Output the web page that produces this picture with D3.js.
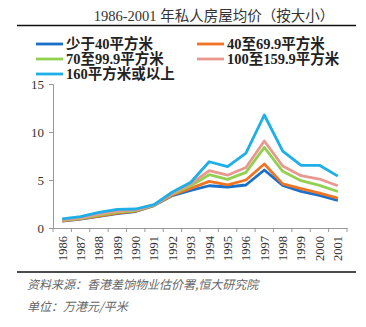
<!DOCTYPE html>
<html>
<head>
<meta charset="utf-8">
<script src="https://cdn.jsdelivr.net/npm/d3@7"></script>
<style>
  body { margin: 0; background: #fff; }
  svg { display: block; }
</style>
</head>
<body>
<div id="container"></div>
<script>
const years = ["1986","1987","1988","1989","1990","1991","1992","1993","1994","1995","1996","1997","1998","1999","2000","2001"];
const seriesNames = ["少于40平方米", "40至69.9平方米", "70至99.9平方米", "100至159.9平方米", "160平方米或以上"];
const seriesColors = ["#1a6fc9", "#f07423", "#92d050", "#e8988f", "#1eaee8"];
const under40 = [0.72, 0.92, 1.22, 1.5, 1.72, 2.33, 3.38, 3.92, 4.4, 4.27, 4.48, 6.04, 4.44, 3.82, 3.4, 2.88];
const s40to69 = [0.74, 0.95, 1.25, 1.54, 1.75, 2.36, 3.44, 4.13, 4.86, 4.5, 5.0, 6.67, 4.6, 4.1, 3.64, 3.12];
const s70to99 = [0.8, 1.0, 1.35, 1.65, 1.82, 2.38, 3.55, 4.4, 5.55, 5.07, 5.8, 8.4, 5.9, 4.93, 4.44, 3.8];
const s100to159 = [0.85, 1.05, 1.45, 1.75, 1.88, 2.4, 3.62, 4.6, 5.97, 5.5, 6.3, 9.06, 6.46, 5.45, 5.1, 4.4];
const over160 = [0.94, 1.18, 1.63, 1.94, 1.98, 2.43, 3.75, 4.76, 6.9, 6.4, 7.8, 11.77, 8.0, 6.53, 6.53, 5.4];
const yTicks = [0, 5, 10, 15];

const allSeries = [under40, s40to69, s70to99, s100to159, over160];

const width = 366, height = 327;
const margin = { top: 84, right: 19, bottom: 99, left: 53 };

const svg = d3.select("#container").append("svg")
  .attr("width", width).attr("height", height);

const serif = "'Liberation Serif', 'Times New Roman', serif";
const cjk = "'Noto Sans CJK SC', sans-serif";

// title + rule
svg.append("text")
  .attr("x", 214).attr("y", 21)
  .attr("text-anchor", "middle")
  .style("font-family", serif + ", " + cjk)
  .style("font-size", "14.5px")
  .style("fill", "#333")
  .text("1986-2001 年私人房屋均价（按大小）");
svg.append("line").attr("x1", 17).attr("x2", 356).attr("y1", 25.5).attr("y2", 25.5)
  .attr("stroke", "#111").attr("stroke-width", 1.6);

const xScale = d3.scaleBand().domain(years).range([margin.left, width - margin.right]);
const yScale = d3.scaleLinear().domain([0, 15]).range([height - margin.bottom, margin.top]);

// axes
const yAxis = d3.axisLeft(yScale).tickValues(yTicks).tickSize(4).tickPadding(5);
const gy = svg.append("g").attr("transform", `translate(${margin.left},0)`).call(yAxis);
gy.selectAll("text").style("font-family", serif).style("font-size", "13px").style("fill", "#333");
gy.selectAll("path, line").attr("stroke", "#999");

const xAxis = d3.axisBottom(xScale).tickSize(0).tickPadding(5);
const gx = svg.append("g").attr("transform", `translate(0,${height - margin.bottom})`).call(xAxis);
gx.select(".domain").attr("stroke", "#999");
gx.selectAll("text")
  .attr("transform", "rotate(-90)")
  .attr("text-anchor", "end")
  .attr("dy", "0.35em")
  .attr("x", -8).attr("y", 0)
  .style("font-family", serif).style("font-size", "12.5px").style("fill", "#333");
// tick marks at band boundaries
const bounds = years.map(d => xScale(d)).concat([xScale.range()[1]]);
svg.append("g").selectAll("line").data(bounds).enter().append("line")
  .attr("x1", d => d).attr("x2", d => d)
  .attr("y1", height - margin.bottom).attr("y2", height - margin.bottom + 4)
  .attr("stroke", "#999");

// lines
const line = d3.line()
  .x((d, i) => xScale(years[i]) + xScale.bandwidth() / 2)
  .y(d => yScale(d));
svg.append("g").selectAll("path").data(allSeries).enter().append("path")
  .attr("d", d => line(d))
  .attr("fill", "none")
  .attr("stroke", (d, i) => seriesColors[i])
  .attr("stroke-width", 2.8)
  .attr("stroke-linejoin", "round");

// legend
const legendPos = [[36, 44], [197, 44], [36, 59], [197, 59], [36, 74]];
const legend = svg.append("g").selectAll("g").data(seriesNames).enter().append("g")
  .attr("transform", (d, i) => `translate(${legendPos[i][0]},${legendPos[i][1]})`);
legend.append("line").attr("x1", 0).attr("x2", 27).attr("y1", 0).attr("y2", 0)
  .attr("stroke", (d, i) => seriesColors[i]).attr("stroke-width", 2.8);
legend.append("text").attr("x", 30).attr("y", 0).attr("dy", "0.36em")
  .style("font-family", serif + ", " + cjk)
  .style("font-weight", "bold").style("font-size", "14.5px").style("fill", "#222")
  .text(d => d);

// footer
svg.append("line").attr("x1", 17).attr("x2", 356).attr("y1", 272).attr("y2", 272)
  .attr("stroke", "#111").attr("stroke-width", 1.6);
svg.append("text").attr("x", 27).attr("y", 289)
  .style("font-family", cjk).style("font-style", "italic").style("font-size", "12px").style("fill", "#666")
  .text("资料来源：香港差饷物业估价署,恒大研究院");
svg.append("text").attr("x", 27).attr("y", 311)
  .style("font-family", cjk).style("font-style", "italic").style("font-size", "12px").style("fill", "#666")
  .text("单位：万港元/平米");
</script>
</body>
</html>
